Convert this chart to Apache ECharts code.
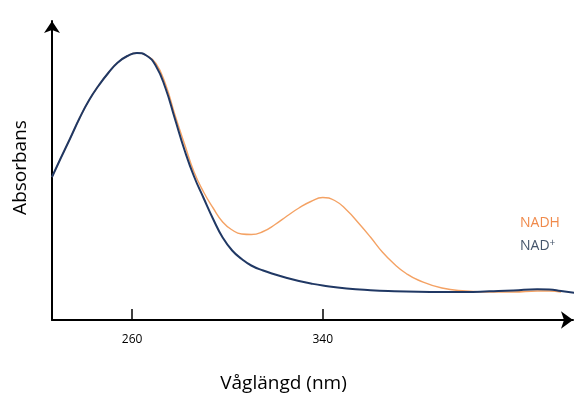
<!DOCTYPE html>
<html>
<head>
<meta charset="utf-8">
<script src="https://cdn.jsdelivr.net/npm/echarts@6/dist/echarts.min.js"></script>
<style>
  html, body { margin: 0; padding: 0; background: #fff; }
  #chart { width: 579px; height: 394px; }
</style>
</head>
<body>
<div id="chart"></div>
<script>
// wavelength (nm) / absorbance (arb.)
const nadhWavelength = [226.4, 230, 234, 238, 242, 246, 250, 254, 258, 262, 266, 270, 274, 278, 282, 286, 290, 294, 298, 302, 306, 310, 315, 320, 325, 330, 335, 340, 345, 350, 355, 360, 365, 370, 375, 380, 390, 400, 410, 420, 430, 435, 440];
const nadhAbs = [1.43, 1.615, 1.815, 2.02, 2.20, 2.345, 2.47, 2.575, 2.64, 2.67, 2.645, 2.565, 2.36, 2.05, 1.76, 1.48, 1.28, 1.12, 0.98, 0.90, 0.86, 0.855, 0.885, 0.955, 1.04, 1.12, 1.185, 1.225, 1.195, 1.10, 0.97, 0.83, 0.68, 0.56, 0.465, 0.40, 0.32, 0.29, 0.28, 0.28, 0.29, 0.29, 0.28];

const nadWavelength = [226.4, 230, 234, 238, 242, 246, 250, 254, 258, 262, 266, 270, 274, 278, 282, 286, 290, 294, 298, 302, 306, 310, 315, 320, 325, 330, 335, 340, 350, 360, 370, 380, 390, 400, 410, 420, 430, 435, 440, 446.5];
const nadAbs = [1.43, 1.615, 1.815, 2.02, 2.20, 2.345, 2.47, 2.575, 2.64, 2.67, 2.645, 2.54, 2.32, 2.01, 1.70, 1.435, 1.22, 1.01, 0.825, 0.695, 0.61, 0.545, 0.495, 0.455, 0.42, 0.39, 0.365, 0.345, 0.315, 0.298, 0.288, 0.282, 0.28, 0.28, 0.287, 0.295, 0.308, 0.305, 0.29, 0.27];

const xTicks = [260, 340];

const pairs = (xs, ys) => xs.map((x, i) => [x, ys[i]]);

const chart = echarts.init(document.getElementById('chart'));
chart.setOption({
  animation: false,
  textStyle: { fontFamily: 'Open Sans' },
  grid: { left: 52, right: 6, top: 21, bottom: 74, containLabel: false, outerBoundsMode: 'none' },
  xAxis: {
    type: 'value',
    min: 226.4,
    max: 445,
    name: 'Våglängd (nm)',
    nameLocation: 'middle',
    nameGap: 54,
    nameTextStyle: { fontSize: 19, color: '#000', padding: [0, 58, 0, 0] },
    axisLine: {
      lineStyle: { color: '#000', width: 2 },
      symbol: ['none', 'arrow'],
      symbolSize: [13, 12]
    },
    axisTick: {
      inside: true,
      length: 11,
      customValues: xTicks,
      lineStyle: { color: '#000', width: 1.5 }
    },
    axisLabel: { customValues: xTicks, color: '#000', fontSize: 12, margin: 14 },
    splitLine: { show: false }
  },
  yAxis: {
    type: 'value',
    min: 0,
    max: 2.99,
    name: 'Absorbans',
    nameLocation: 'middle',
    nameGap: 22,
    nameTextStyle: { fontSize: 19, color: '#000', padding: [0, 0, 0, 6] },
    axisLine: {
      show: true,
      lineStyle: { color: '#000', width: 2 },
      symbol: ['none', 'arrow'],
      symbolSize: [12, 12]
    },
    axisTick: { show: false },
    axisLabel: { show: false },
    splitLine: { show: false }
  },
  series: [
    {
      name: 'NADH',
      type: 'line',
      data: pairs(nadhWavelength, nadhAbs),
      smooth: 0.5,
      showSymbol: false,
      clip: false,
      lineStyle: { color: '#F4A264', width: 1.4 },
      z: 2
    },
    {
      name: 'NAD+',
      type: 'line',
      data: pairs(nadWavelength, nadAbs),
      smooth: 0.5,
      showSymbol: false,
      clip: false,
      lineStyle: { color: '#203864', width: 2 },
      z: 3
    }
  ],
  graphic: [
    {
      type: 'text', left: 520, top: 216,
      style: { text: 'NADH', fill: '#F08A4B', fontSize: 14, fontFamily: 'Open Sans' }
    },
    {
      type: 'text', left: 520, top: 238,
      style: {
        text: 'NAD{s|+}',
        fill: '#44546A',
        fontSize: 14,
        fontFamily: 'Open Sans',
        rich: { s: { fontSize: 10, fill: '#44546A', fontFamily: 'Open Sans', padding: [0, 0, 7, 0] } }
      }
    }
  ]
});
</script>
</body>
</html>
